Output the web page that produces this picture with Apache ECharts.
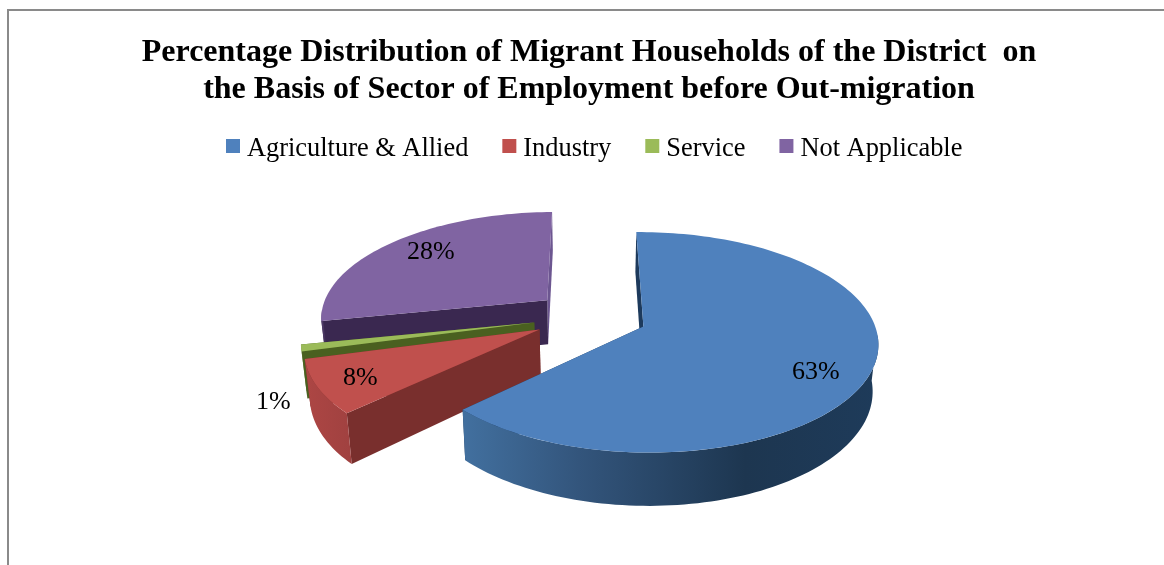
<!DOCTYPE html>
<html>
<head>
<meta charset="utf-8">
<style>html,body{margin:0;padding:0;background:#fff}#chart{width:1164px;height:565px}</style>
<script src="https://cdn.jsdelivr.net/npm/echarts@6/dist/echarts.min.js"></script>
</head>
<body>
<div id="chart"></div>
<script>
// Sectors of employment and their share of migrant households (percent)
const categories = ['Agriculture & Allied', 'Industry', 'Service', 'Not Applicable'];
const shares = [63, 8, 1, 28];
const titleLines = [
  'Percentage Distribution of Migrant Households of the District  on',
  'the Basis of Sector of Employment before Out-migration'
];

// Colours per sector: top face, rim gradient ends, flat side walls
const topColors = ['#4F81BD', '#C0504D', '#9BBB59', '#8064A2'];
const rimFrom = ['#42709f', '#ad4644', '#66802f', '#54406e'];
const rimTo = ['#1d3650', '#a04140', '#4a6020', '#3a2850'];
const wallColors = ['#1d3a5c', '#792f2d', '#4a6020', '#3a2850'];
const endWallColors = ['#1d3a5c', '#792f2d', '#4a6020', '#6c5690'];

// Where each percent label sits: distance from the slice apex, and turn away from mid-angle
const labelReach = [0.8, 0.826, 1.206, 0.775];
const labelTurn = [7.4, -1.3, -20.9, 2.7];

// Tilted-disc projection of the unit pie plane on to the page
const view = { cx: 590.3, cy: 316.3, rx: 228, ry: 105, skewX: 0.5, skewY: -1.5, tilt: 0.1415,
  thickness: 45, shrink: 0.98, explode: 0.25 };

function project(u, v, lower) {
  const d = 1 - view.tilt * v;
  const x = (view.rx * u + view.skewX * v) / d;
  const y = (view.ry * v + view.skewY * u) / d;
  return lower
    ? [view.cx + x * view.shrink, view.cy + y + view.thickness / d]
    : [view.cx + x, view.cy + y];
}

const rad = (deg) => deg * Math.PI / 180;

function sliceAngles(index) {
  const total = shares.reduce((a, b) => a + b, 0);
  let before = 0;
  for (let i = 0; i < index; i++) before += shares[i];
  const start = before / total * 360;
  return { start, end: start + shares[index] / total * 360 };
}

function onDisc(apex, angle, reach) {
  return [apex[0] + reach * Math.sin(rad(angle)), apex[1] - reach * Math.cos(rad(angle))];
}

function arc(apex, from, to, lower) {
  const steps = Math.max(2, Math.ceil(Math.abs(to - from) / 1.5));
  const pts = [];
  for (let i = 0; i <= steps; i++) {
    const p = onDisc(apex, from + (to - from) * i / steps, 1);
    pts.push(project(p[0], p[1], lower));
  }
  return pts;
}

function radialWall(apex, angle, fill) {
  const p = onDisc(apex, angle, 1);
  return {
    type: 'polygon',
    shape: { points: [project(apex[0], apex[1]), project(p[0], p[1]),
      project(p[0], p[1], true), project(apex[0], apex[1], true)] },
    style: { fill }
  };
}

function renderSlice(params, api) {
  const i = params.seriesIndex;
  const { start, end } = sliceAngles(i);
  const mid = (start + end) / 2;
  const apex = onDisc([0, 0], mid, view.explode);
  const children = [radialWall(apex, end, endWallColors[i]), radialWall(apex, start, wallColors[i])];

  // Only the part of the rim that faces the viewer
  const rimA = Math.max(start, 95), rimB = Math.min(end, 265);
  if (rimB > rimA) {
    const upper = arc(apex, rimA, rimB), lowerEdge = arc(apex, rimA, rimB, true).reverse();
    children.push({
      type: 'polygon',
      shape: { points: upper.concat(lowerEdge) },
      style: {
        fill: new echarts.graphic.LinearGradient(1, 0, 0, 0, i === 0
          ? [{ offset: 0, color: '#1e3b5a' }, { offset: 0.32, color: rimTo[0] },
             { offset: 0.72, color: '#33557c' }, { offset: 1, color: rimFrom[0] }]
          : [{ offset: 0, color: rimTo[i] }, { offset: 1, color: rimFrom[i] }])
      }
    });
  }

  children.push({
    type: 'polygon',
    shape: { points: [project(apex[0], apex[1])].concat(arc(apex, start, end)) },
    style: { fill: topColors[i] }
  });

  const spot = onDisc(apex, mid + labelTurn[i], labelReach[i]);
  const at = project(spot[0], spot[1]);
  children.push({
    type: 'text',
    style: { text: api.value(0) + '%', x: at[0], y: at[1], fill: '#000',
      font: '26px "Liberation Serif"', align: 'center', verticalAlign: 'middle' }
  });
  return { type: 'group', children };
}

const chart = echarts.init(document.getElementById('chart'), null, { renderer: 'canvas' });
chart.setOption({
  animation: false,
  backgroundColor: '#fff',
  title: {
    text: titleLines.join('\n'),
    left: 584, top: 29, textAlign: 'center',
    textStyle: { fontFamily: 'Liberation Serif', fontWeight: 'bold', fontSize: 32, lineHeight: 37, color: '#000' }
  },
  legend: {
    data: categories, top: 131, left: 221, icon: 'rect',
    itemWidth: 14, itemHeight: 14, itemGap: 34,
    selectedMode: false,
    formatter: (name) => '{entry|' + name + '}',
    textStyle: {
      rich: {
        entry: { fontFamily: 'Liberation Serif', fontSize: 26.4, color: '#000', padding: [6, 0, 0, 2] }
      }
    }
  },
  graphic: [{
    type: 'polyline',
    shape: { points: [[8, 565], [8, 10], [1164, 10]] },
    style: { stroke: '#8a8a8a', lineWidth: 2, fill: null }
  }],
  // Later slices in the stacking order are nearer the viewer
  series: categories.map((name, i) => ({
    type: 'custom',
    name,
    coordinateSystem: 'none',
    z: [4, 3, 2, 1][i] + 2,
    itemStyle: { color: topColors[i] },
    renderItem: renderSlice,
    data: [[shares[i]]]
  }))
});
</script>
</body>
</html>
